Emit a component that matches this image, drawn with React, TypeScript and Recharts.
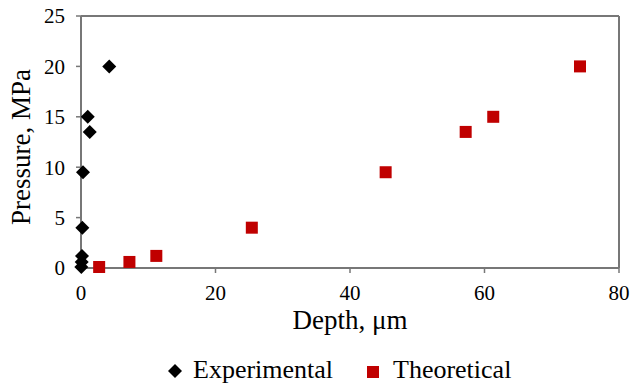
import React from 'react';
import { ScatterChart, Scatter, XAxis, YAxis, ReferenceLine, Label } from 'recharts';

const experimentalDepth = [0.05, 0.1, 0.15, 0.2, 0.3, 1.3, 1.0, 4.2];
const experimentalPressure = [0.1, 0.6, 1.2, 4.0, 9.5, 13.5, 15.0, 20.0];
const theoreticalDepth = [2.7, 7.2, 11.2, 25.4, 45.3, 57.2, 61.3, 74.2];
const theoreticalPressure = [0.1, 0.6, 1.2, 4.0, 9.5, 13.5, 15.0, 20.0];
const xTicks = [0, 20, 40, 60, 80];
const yTicks = [0, 5, 10, 15, 20, 25];
const seriesNames = ['Experimental', 'Theoretical'];

const experimental = experimentalDepth.map((x, i) => ({ x, y: experimentalPressure[i] }));
const theoretical = theoreticalDepth.map((x, i) => ({ x, y: theoreticalPressure[i] }));

const FONT = '"Liberation Serif", "Times New Roman", serif';
const AXIS = '#777777';
const RED = '#C00000';

const Diamond = (props: any) => {
  const { cx, cy } = props;
  const r = 7;
  return <path d={`M${cx},${cy - r}L${cx + r},${cy}L${cx},${cy + r}L${cx - r},${cy}Z`} fill="#000" />;
};

const Square = (props: any) => {
  const { cx, cy } = props;
  const s = 12;
  return <rect x={cx - s / 2} y={cy - s / 2} width={s} height={s} fill={RED} />;
};

const tickStyle = { fill: '#000', fontFamily: FONT, fontSize: 21 };

export default function App() {
  return (
    <div style={{ position: 'absolute', left: 0, top: 0, width: 631, height: 387, background: '#fff', fontFamily: FONT }}>
      <ScatterChart width={631} height={387} margin={{ top: 16, right: 12, left: 0, bottom: 45 }}>
        <XAxis
          type="number"
          dataKey="x"
          domain={[0, 80]}
          ticks={xTicks}
          height={74}
          tickSize={5}
          tickMargin={12}
          tick={tickStyle}
          tickLine={{ stroke: AXIS, strokeWidth: 1.5 }}
          axisLine={{ stroke: AXIS, strokeWidth: 2 }}
          label={
            <Label
              content={() => (
                <text x={350} y={329} textAnchor="middle" fontFamily={FONT} fontSize={27} fill="#000">
                  Depth, μm
                </text>
              )}
            />
          }
        />
        <YAxis
          type="number"
          dataKey="y"
          domain={[0, 25]}
          ticks={yTicks}
          width={81}
          tickSize={5}
          tickMargin={11}
          tick={tickStyle}
          tickLine={{ stroke: AXIS, strokeWidth: 1.5 }}
          axisLine={{ stroke: AXIS, strokeWidth: 2 }}
          label={
            <Label
              content={() => (
                <text
                  transform="translate(30,147) rotate(-90)"
                  textAnchor="middle"
                  fontFamily={FONT}
                  fontSize={27}
                  fill="#000"
                >
                  Pressure, MPa
                </text>
              )}
            />
          }
        />
        <ReferenceLine y={25} stroke={AXIS} strokeWidth={2} />
        <ReferenceLine x={80} stroke={AXIS} strokeWidth={2} />
        <Scatter name={seriesNames[0]} data={experimental} shape={<Diamond />} isAnimationActive={false} />
        <Scatter name={seriesNames[1]} data={theoretical} shape={<Square />} isAnimationActive={false} />
      </ScatterChart>
      <svg width={631} height={40} style={{ position: 'absolute', left: 0, top: 347 }}>
        <path d="M175,17L182,24L175,31L168,24Z" fill="#000" />
        <text x={193} y={31} fontFamily={FONT} fontSize={26} fill="#000">{seriesNames[0]}</text>
        <rect x={367} y={19} width={12} height={12} fill={RED} />
        <text x={393} y={31} fontFamily={FONT} fontSize={26} fill="#000">{seriesNames[1]}</text>
      </svg>
    </div>
  );
}
